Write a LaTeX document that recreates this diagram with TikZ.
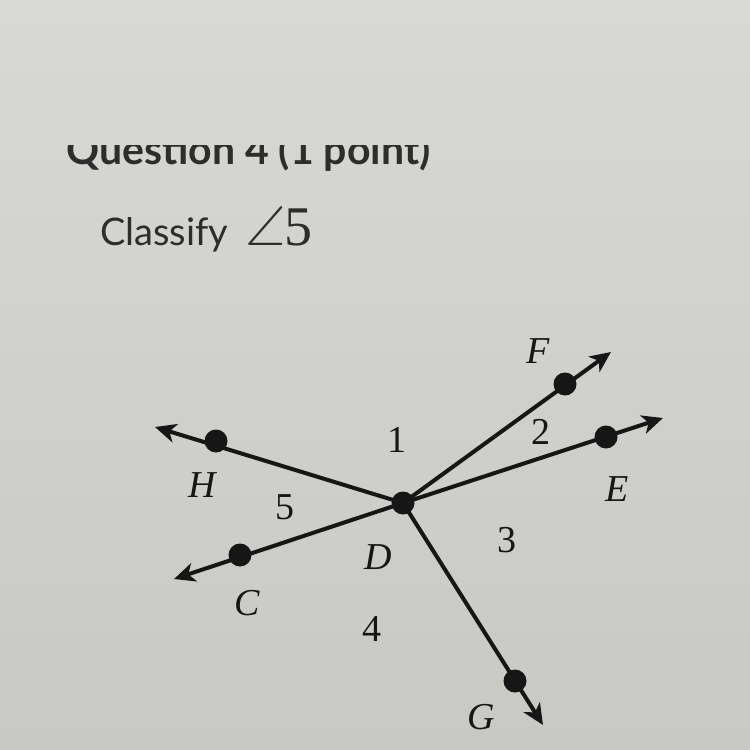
\documentclass[tikz,border=0pt]{standalone}
\usepackage{fontspec}
\usepackage{amssymb}
\usepackage{tikz}
\usetikzlibrary{arrows.meta}
\setmainfont{Liberation Serif}
\newfontfamily\latofont{Lato}

\definecolor{paper}{RGB}{216,216,213}
\definecolor{paperdark}{RGB}{200,200,197}
\definecolor{ink}{RGB}{22,22,22}

\tikzset{
  ray/.style={ink,line width=4pt,-{Stealth[length=21pt,width=19pt,inset=6pt]}},
  pt/.style={circle,fill=ink,inner sep=0pt,minimum size=23pt},
  lbl/.style={ink,inner sep=0.75pt,font=\fontsize{38}{40}\selectfont}
}

\begin{document}
\begin{tikzpicture}[x=1pt,y=1pt,yscale=-1,xscale=1]

\useasboundingbox (0,0) rectangle (750,750);
\shade[top color=paper,bottom color=paperdark] (0,0) rectangle (750,750);

% heading, cut off by the top of the panel
\begin{scope}
\clip (0,145) rectangle (750,750);
\node (qhead) [anchor=base west,inner sep=0pt,font=\latofont\bfseries\fontsize{41}{46}\selectfont,color=ink!90] at (66,164) {Question 4 (1 point)};
\end{scope}

\node (task) [anchor=base west,inner sep=0pt,color=ink!90] at (100,245) {\latofont\fontsize{38}{42}\selectfont Classify\hspace{17pt}\fontsize{56}{58}\selectfont$\angle$\hspace{-1pt}\rmfamily 5};

% vertex and points
\coordinate (D) at (403,503);
\coordinate (H) at (216,441);
\coordinate (C) at (240,555);
\coordinate (F) at (565,384);
\coordinate (E) at (606,437);
\coordinate (G) at (515,681);

\coordinate (Htip) at (155,427);
\coordinate (Ctip) at (174,579);
\coordinate (Ftip) at (611,352);
\coordinate (Etip) at (663,418);
\coordinate (Gtip) at (543,725);

\draw[ray] (D) -- (Htip);
\draw[ray] (D) -- (Ctip);
\draw[ray] (D) -- (Ftip);
\draw[ray] (D) -- (Etip);
\draw[ray] (D) -- (Gtip);

\node[pt] (Hdot) at (H) {};
\node[pt] (Cdot) at (C) {};
\node[pt] (Fdot) at (F) {};
\node[pt] (Edot) at (E) {};
\node[pt] (Gdot) at (G) {};
\node[pt] (Ddot) at (D) {};

% letters
\node[lbl] (labF) at (538,351) {\itshape F};
\node[lbl] (labH) at (202,485) {\itshape H};
\node[lbl] (labE) at (617,489) {\itshape E};
\node[lbl] (labD) at (378,557) {\itshape D};
\node[lbl] (labC) at (247,603) {\itshape C};
\node[lbl] (labG) at (481,717) {\itshape G};

% angle numbers
\node[lbl] (n1) at (397,440) {1};
\node[lbl] (n2) at (541,432) {2};
\node[lbl] (n3) at (507,540) {3};
\node[lbl] (n4) at (372,629) {4};
\node[lbl] (n5) at (285,507) {5};

\end{tikzpicture}
\end{document}
